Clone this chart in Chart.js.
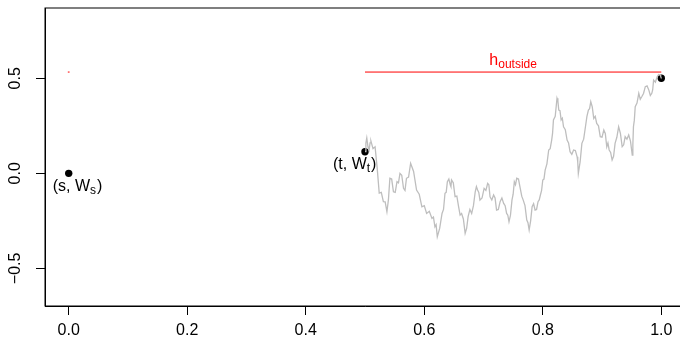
<!DOCTYPE html>
<html>
<head>
<meta charset="utf-8">
<script src="https://cdn.jsdelivr.net/npm/chart.js@4"></script>
<style>
  html, body { margin: 0; padding: 0; background: #fff; overflow: hidden; }
  canvas { display: block; }
</style>
</head>
<body>
<canvas id="bm" width="690" height="343"></canvas>
<script>
const xTicks = [0, 0.2, 0.4, 0.6, 0.8, 1.0];
const yTicks = [-0.5, 0, 0.5];

// path of W between t and 1
const walkX = [0.500, 0.5015, 0.503, 0.505, 0.507, 0.5085, 0.510, 0.5135, 0.517, 0.5205,
  0.524, 0.5275, 0.531, 0.534, 0.537, 0.5395, 0.542, 0.545, 0.548, 0.551,
  0.554, 0.5565, 0.559, 0.562, 0.565, 0.5675, 0.570, 0.5735, 0.577, 0.582,
  0.587, 0.5915, 0.596, 0.600, 0.604, 0.6085, 0.613, 0.6155, 0.618, 0.620,
  0.622, 0.626, 0.630, 0.6325, 0.635, 0.637, 0.639, 0.6415, 0.644, 0.645,
  0.646, 0.649, 0.652, 0.655, 0.658, 0.6605, 0.663, 0.666, 0.669, 0.6715,
  0.674, 0.677, 0.680, 0.683, 0.686, 0.688, 0.690, 0.692, 0.694, 0.6975,
  0.701, 0.704, 0.707, 0.709, 0.711, 0.714, 0.717, 0.7195, 0.722, 0.725,
  0.728, 0.731, 0.734, 0.7365, 0.739, 0.741, 0.743, 0.7455, 0.748, 0.750,
  0.752, 0.754, 0.756, 0.759, 0.762, 0.7645, 0.767, 0.770, 0.773, 0.775,
  0.777, 0.7795, 0.782, 0.7845, 0.787, 0.7895, 0.792, 0.794, 0.796, 0.798,
  0.800, 0.802, 0.804, 0.807, 0.810, 0.8125, 0.815, 0.8165, 0.818, 0.821,
  0.824, 0.8255, 0.827, 0.829, 0.831, 0.833, 0.835, 0.838, 0.841, 0.8435,
  0.846, 0.849, 0.852, 0.855, 0.858, 0.859, 0.860, 0.863, 0.866, 0.869,
  0.872, 0.8745, 0.877, 0.879, 0.881, 0.8835, 0.886, 0.8885, 0.891, 0.894,
  0.897, 0.900, 0.903, 0.9055, 0.908, 0.910, 0.912, 0.9145, 0.917, 0.9195,
  0.922, 0.925, 0.928, 0.931, 0.934, 0.9365, 0.939, 0.942, 0.945, 0.948,
  0.951, 0.952, 0.953, 0.9545, 0.956, 0.959, 0.962, 0.9645, 0.967, 0.970,
  0.973, 0.976, 0.979, 0.9815, 0.984, 0.9855, 0.987, 0.990, 0.993, 0.9955,
  0.998, 0.999, 1.000];
const walkY = [0.114, 0.16, 0.186, 0.14, 0.123, 0.16, 0.170, 0.13, 0.140, 0.03,
  -0.104, -0.10, -0.149, -0.15, -0.202, -0.14, -0.026, -0.03, -0.097, -0.10,
  -0.044, -0.05, 0.000, -0.01, -0.079, -0.09, -0.026, -0.02, 0.053, 0.01,
  -0.088, -0.11, -0.176, -0.17, -0.211, -0.20, -0.237, -0.23, -0.281, -0.27,
  -0.334, -0.29, -0.211, -0.19, -0.105, -0.10, -0.044, -0.03, -0.062, -0.07,
  -0.035, -0.05, -0.123, -0.12, -0.176, -0.22, -0.211, -0.24, -0.316, -0.29,
  -0.228, -0.19, -0.211, -0.17, -0.097, -0.07, -0.088, -0.10, -0.141, -0.13,
  -0.079, -0.09, -0.053, -0.06, -0.123, -0.14, -0.114, -0.13, -0.193, -0.19,
  -0.149, -0.13, -0.158, -0.17, -0.211, -0.22, -0.255, -0.22, -0.141, -0.11,
  -0.044, -0.06, -0.026, -0.03, -0.079, -0.12, -0.141, -0.17, -0.246, -0.26,
  -0.298, -0.25, -0.176, -0.16, -0.193, -0.19, -0.149, -0.14, -0.114, -0.09,
  -0.035, -0.03, 0.017, 0.05, 0.123, 0.13, 0.175, 0.21, 0.281, 0.30,
  0.395, 0.38, 0.333, 0.33, 0.281, 0.29, 0.245, 0.23, 0.175, 0.16,
  0.114, 0.10, 0.123, 0.12, 0.087, 0.06, 0.000, 0.06, 0.158, 0.18,
  0.245, 0.30, 0.333, 0.34, 0.377, 0.35, 0.289, 0.30, 0.263, 0.25,
  0.193, 0.19, 0.228, 0.21, 0.140, 0.16, 0.123, 0.11, 0.070, 0.09,
  0.158, 0.19, 0.245, 0.21, 0.140, 0.15, 0.193, 0.18, 0.202, 0.17,
  0.096, 0.15, 0.245, 0.28, 0.351, 0.37, 0.421, 0.39, 0.403, 0.42,
  0.456, 0.46, 0.438, 0.41, 0.421, 0.44, 0.491, 0.48, 0.508, 0.52,
  0.517, 0.51, 0.500];

// marked points (s, W_s), (t, W_t), (1, W_1)
const markX = [0, 0.5, 1.0];
const markY = [0, 0.114, 0.5];

// level h over [t, 1], plus the short stub at s
const hLevel = 0.533;
const hSpanX = [0.5, 1.0];
const hStubX = [-0.0015, 0.0015];

const FONT = "'Liberation Sans', Arial, sans-serif";
Chart.defaults.font.family = FONT;

function drawSub(ctx, parts, x, y, color) {
  // parts: [text, isSub] pieces drawn left to right from x on baseline y
  ctx.fillStyle = color;
  ctx.textBaseline = "alphabetic";
  ctx.textAlign = "left";
  let cx = x;
  for (const [txt, sub] of parts) {
    ctx.font = (sub ? "12px " : "16px ") + FONT;
    ctx.fillText(txt, cx, sub ? y + 3 : y);
    cx += ctx.measureText(txt).width + (sub ? 1 : 0);
  }
  return cx - x;
}

function widthOf(ctx, parts) {
  let w = 0;
  for (const [txt, sub] of parts) {
    ctx.font = (sub ? "12px " : "16px ") + FONT;
    w += ctx.measureText(txt).width;
  }
  return w;
}

const decor = {
  id: "decor",
  afterDraw(chart) {
    const { ctx, chartArea: a, scales: { x, y } } = chart;
    ctx.save();
    // plot frame
    ctx.strokeStyle = "#000";
    ctx.lineWidth = 1;
    ctx.strokeRect(a.left, a.top, a.right - a.left, a.bottom - a.top);

    // vertical y tick labels
    ctx.fillStyle = "#000";
    ctx.font = "16px " + FONT;
    ctx.textAlign = "center";
    ctx.textBaseline = "middle";
    yTicks.forEach(v => {
      const py = y.getPixelForValue(v);
      ctx.save();
      ctx.translate(16, py);
      ctx.rotate(-Math.PI / 2);
      ctx.fillText(v === 0 ? "0.0" : (v < 0 ? "\u2212" : "") + Math.abs(v).toFixed(1), 0, 0);
      ctx.restore();
    });

    // point labels
    drawSub(ctx, [["(s, W", false], ["s", true], [")", false]],
      x.getPixelForValue(markX[0]) - 16, y.getPixelForValue(markY[0]) + 18, "#000");
    drawSub(ctx, [["(t, W", false], ["t", true], [")", false]],
      x.getPixelForValue(markX[1]) - 32, y.getPixelForValue(markY[1]) + 17, "#000");

    // h label above the level line
    const hParts = [["h", false], ["outside", true]];
    const hw = widthOf(ctx, hParts);
    drawSub(ctx, hParts, x.getPixelForValue(0.75) - hw / 2,
      y.getPixelForValue(hLevel) - 7, "#ff0000");
    ctx.restore();
  }
};

new Chart(document.getElementById("bm"), {
  type: "scatter",
  data: {
    datasets: [
      {
        data: walkX.map((v, i) => ({ x: v, y: walkY[i] })),
        showLine: true,
        borderColor: "#bebebe",
        borderWidth: 1.3,
        pointRadius: 0,
        tension: 0
      },
      {
        data: hSpanX.map(v => ({ x: v, y: hLevel })),
        showLine: true,
        borderColor: "#ff0000",
        borderWidth: 1,
        pointRadius: 0
      },
      {
        data: hStubX.map(v => ({ x: v, y: hLevel })),
        showLine: true,
        borderColor: "#ff0000",
        borderWidth: 1,
        pointRadius: 0
      },
      {
        data: markX.map((v, i) => ({ x: v, y: markY[i] })),
        showLine: false,
        backgroundColor: "#000",
        borderColor: "#000",
        pointRadius: 3.7,
        borderWidth: 0
      }
    ]
  },
  options: {
    responsive: false,
    animation: false,
    events: [],
    layout: { padding: { top: 8, right: 5, left: 0, bottom: 0 } },
    plugins: {
      legend: { display: false },
      tooltip: { enabled: false }
    },
    scales: {
      x: {
        type: "linear",
        min: -0.04,
        max: 1.04,
        afterBuildTicks: s => { s.ticks = xTicks.map(v => ({ value: v })); },
        afterFit: s => { s.height = 37; },
        grid: { drawOnChartArea: false, drawTicks: true, tickLength: 9, color: "#000" },
        border: { display: true, color: "#000" },
        ticks: {
          color: "#000",
          font: { size: 16 },
          padding: 6,
          maxRotation: 0,
          callback: v => v.toFixed(1)
        }
      },
      y: {
        type: "linear",
        min: -0.698,
        max: 0.87,
        afterBuildTicks: s => { s.ticks = yTicks.map(v => ({ value: v })); },
        afterFit: s => { s.width = 45; },
        grid: { drawOnChartArea: false, drawTicks: true, tickLength: 9, color: "#000" },
        border: { display: true, color: "#000" },
        ticks: { display: false }
      }
    }
  },
  plugins: [decor]
});
</script>
</body>
</html>
